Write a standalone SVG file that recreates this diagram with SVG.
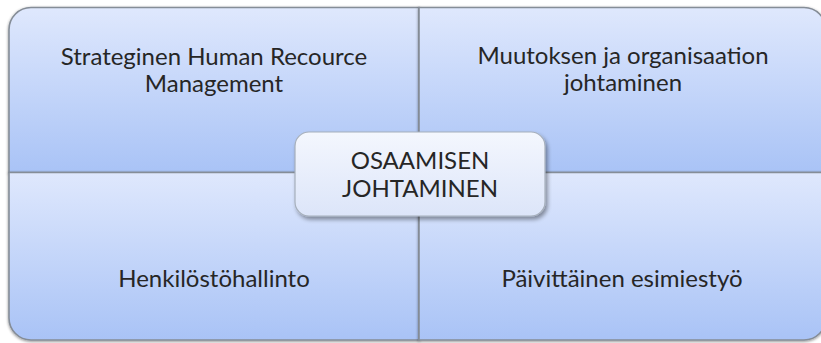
<svg xmlns="http://www.w3.org/2000/svg" width="821" height="343" viewBox="0 0 821 343">
<defs>
<linearGradient id="qg" x1="0" y1="0" x2="0" y2="1">
<stop offset="0" stop-color="#dfe8fd"/>
<stop offset="1" stop-color="#a9c3f6"/>
</linearGradient>
<linearGradient id="cg" x1="0" y1="0" x2="0" y2="1">
<stop offset="0" stop-color="#f4f7fe"/>
<stop offset="1" stop-color="#dce5f9"/>
</linearGradient>
<filter id="sh" x="-5%" y="-5%" width="110%" height="110%">
<feGaussianBlur in="SourceAlpha" stdDeviation="1.8"/>
<feOffset dx="0" dy="1" result="b"/>
<feComponentTransfer><feFuncA type="linear" slope="0.45"/></feComponentTransfer>
<feMerge><feMergeNode/><feMergeNode in="SourceGraphic"/></feMerge>
</filter>
<filter id="csh" x="-10%" y="-15%" width="120%" height="140%">
<feGaussianBlur in="SourceAlpha" stdDeviation="2.2"/>
<feOffset dx="2" dy="3" result="b"/>
<feComponentTransfer><feFuncA type="linear" slope="0.4"/></feComponentTransfer>
<feMerge><feMergeNode/><feMergeNode in="SourceGraphic"/></feMerge>
</filter>
</defs>
<style>
.q{fill:url(#qg);stroke:#858d97;stroke-width:1.6;filter:url(#sh)}
.c{fill:url(#cg);stroke:#a6afbb;stroke-width:1.2;filter:url(#csh)}
text{font-family:Lato,"Liberation Sans",sans-serif;font-size:24px;fill:#262626;text-anchor:middle}
</style>
<g id="strateginen">
<path class="q" d="M9,29.5 A22,22 0 0 1 31,7.5 L419,7.5 L419,172.5 L9,172.5 Z"/>
<text x="214" y="65">Strateginen Human Recource</text>
<text x="214" y="92">Management</text>
</g>
<g id="muutos">
<path class="q" d="M419,7.5 L804,7.5 A22,22 0 0 1 826,29.5 L826,172.5 L419,172.5 Z"/>
<text x="623" y="64">Muutoksen ja organisaation</text>
<text x="623" y="91">johtaminen</text>
</g>
<g id="henkilosto">
<path class="q" d="M9,172.5 L419,172.5 L419,340 L31,340 A22,22 0 0 1 9,318 Z"/>
<text x="214" y="287">Henkilöstöhallinto</text>
</g>
<g id="esimiestyo">
<path class="q" d="M419,172.5 L826,172.5 L826,318 A22,22 0 0 1 804,340 L419,340 Z"/>
<text x="622" y="287">Päivittäinen esimiestyö</text>
</g>
<g id="osaamisen">
<rect class="c" x="295" y="132" width="250" height="84" rx="14"/>
<text x="420" y="169">OSAAMISEN</text>
<text x="420" y="197">JOHTAMINEN</text>
</g>
</svg>
